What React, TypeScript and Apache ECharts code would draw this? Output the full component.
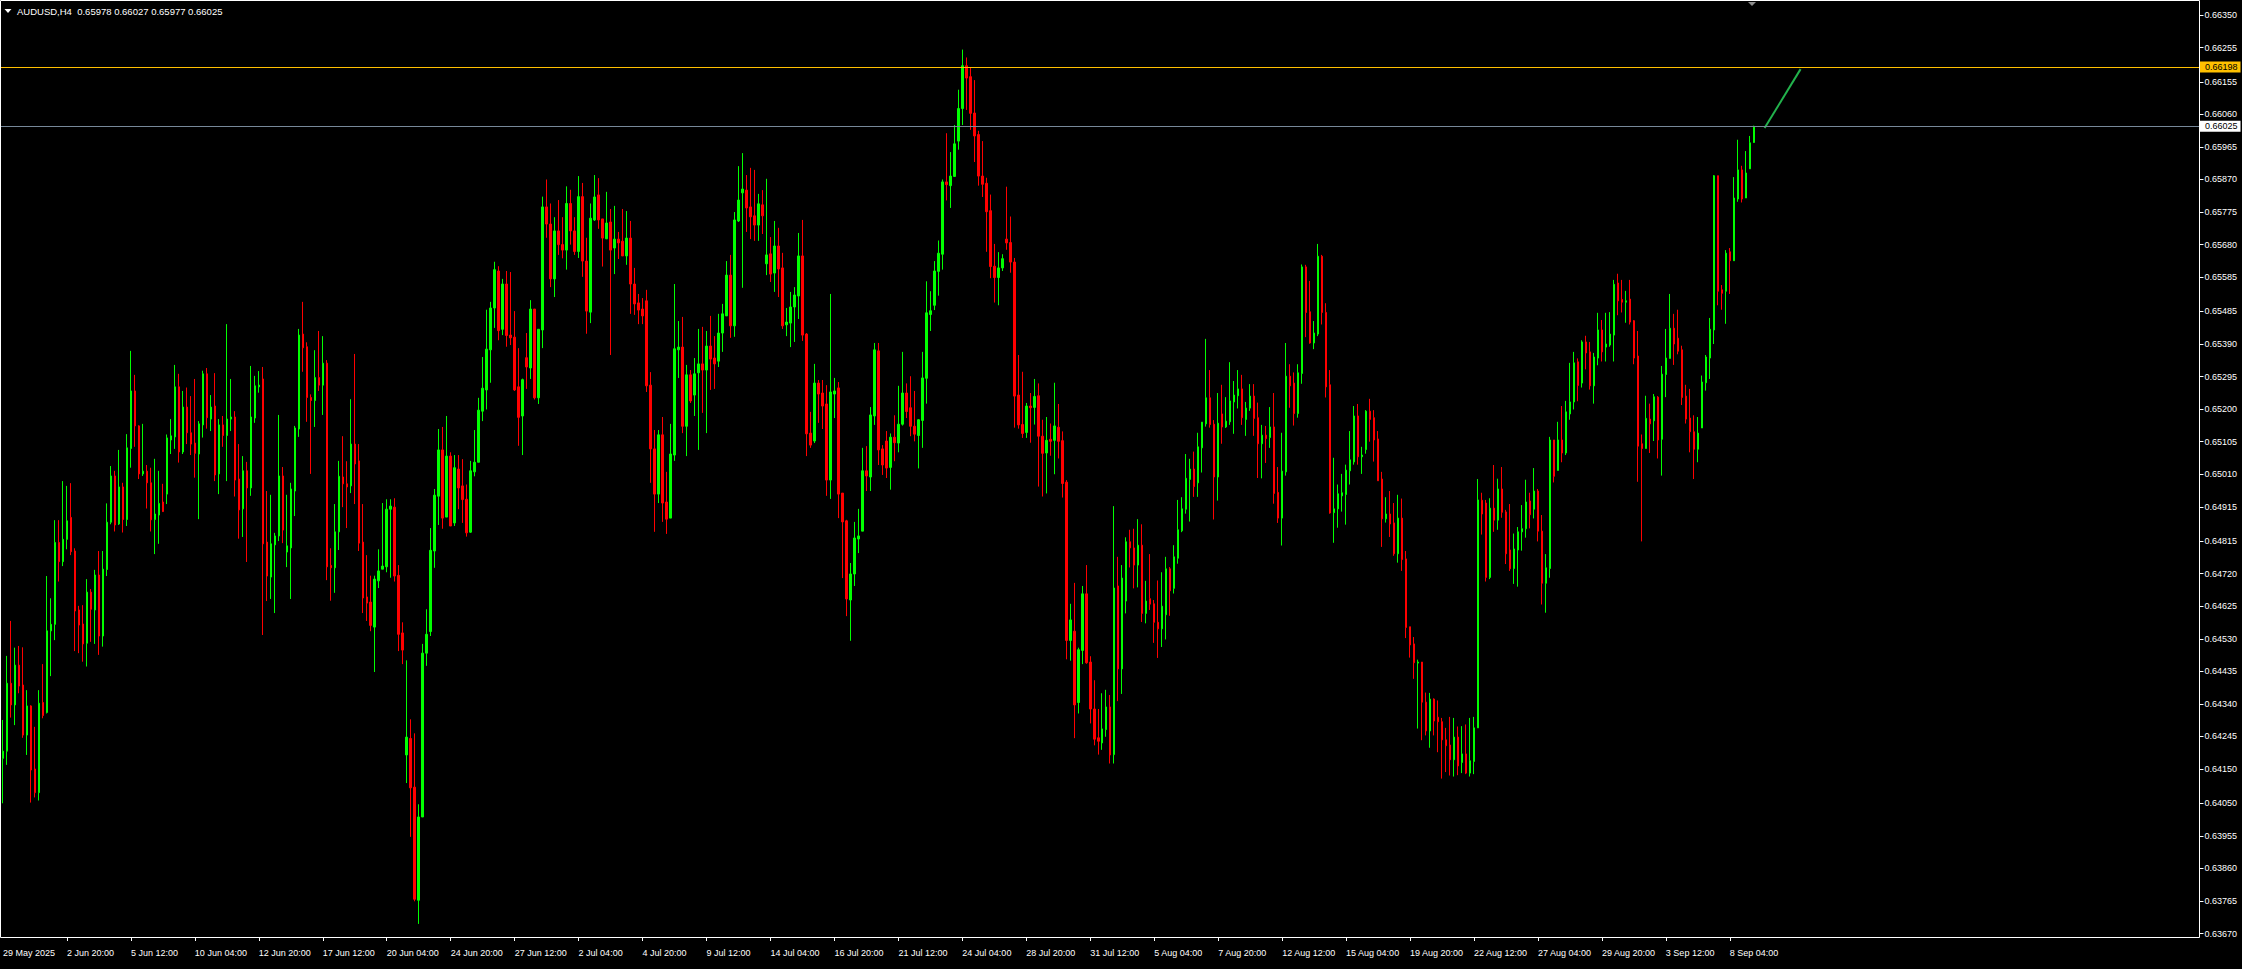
import React, { useEffect, useRef } from "react";
import * as echarts from "echarts";

// Prices are stored in 1e-5 units (points): 64181 -> 0.64181
const SCALE = 100000;

const OPEN = [
  64181, 64202, 64400, 64337, 64453, 64395, 64249, 64334, 64150, 64081,
  64344, 64315, 64553, 64572, 64811, 64755, 64820, 64884, 64786, 64614,
  64573, 64517, 64666, 64614, 64716, 64538, 64732, 64870, 65005, 64865,
  64973, 64878, 65085, 65253, 65151, 65011, 65019, 64985, 64878, 64891,
  64929, 64952, 65110, 65119, 65265, 65075, 65206, 65131, 65101, 65069,
  65154, 65303, 65171, 65209, 65011, 65154, 65123, 65171, 65177, 64996,
  64909, 65020, 64970, 65174, 65265, 65288, 64812, 64710, 64804, 64830,
  65005, 64783, 64795, 64961, 65142, 65419, 65382, 65234, 65225, 65292,
  65270, 65334, 64744, 64737, 64842, 65002, 64982, 64976, 65098, 65049,
  64812, 64652, 64637, 64564, 64699, 64733, 64740, 64908, 64914, 64715,
  64547, 64191, 64239, 64097, 63767, 64010, 64488, 64551, 64786, 64946,
  65081, 64885, 65063, 64868, 65025, 64976, 64937, 64841, 65017, 65045,
  65194, 65256, 65373, 65495, 65603, 65433, 65565, 65416, 65410, 65265,
  65180, 65350, 65320, 65492, 65233, 65431, 65790, 65740, 65580, 65720,
  65680, 65664, 65800, 65720, 65660, 65820, 65632, 65483, 65752, 65825,
  65755, 65697, 65746, 65670, 65696, 65690, 65647, 65699, 65565, 65510,
  65492, 65516, 65270, 65084, 64952, 65125, 64929, 64882, 65066, 65373,
  65381, 65150, 65300, 65241, 65306, 65332, 65314, 65384, 65349, 65340,
  65422, 65472, 65591, 65443, 65749, 65831, 65839, 65790, 65764, 65737,
  65796, 65624, 65653, 65597, 65676, 65612, 65446, 65451, 65498, 65530,
  65647, 65419, 65130, 65107, 65276, 65247, 65215, 64993, 65244, 65262,
  64955, 64874, 64643, 64719, 64821, 64844, 65020, 65002, 65180, 65370,
  65084, 65107, 65030, 65118, 65101, 65156, 65247, 65204, 65150, 65123,
  65167, 65290, 65476, 65503, 65602, 65652, 65863, 65852, 65879, 65982,
  66077, 66202, 66170, 66064, 66001, 65880, 65859, 65779, 65617, 65584,
  65612, 65696, 65686, 65629, 65241, 65155, 65132, 65209, 65205, 65239,
  65121, 65072, 65112, 65109, 65147, 65108, 64987, 64525, 64552, 64344,
  64496, 64661, 64462, 64325, 64241, 64226, 64265, 64331, 64192, 64684,
  64442, 64640, 64813, 64795, 64745, 64803, 64604, 64647, 64632, 64578,
  64559, 64600, 64734, 64677, 64765, 64845, 64908, 64995, 65025, 64985,
  65087, 65157, 65233, 65156, 65002, 65186, 65148, 65163, 65221, 65239,
  65259, 65170, 65203, 65238, 65175, 65099, 65124, 65117, 65148, 64957,
  64882, 65017, 65296, 65276, 65187, 65304, 65615, 65484, 65393, 65419,
  65646, 65482, 65271, 64898, 64909, 64947, 64951, 65020, 65046, 65180,
  65061, 65082, 65194, 65175, 65113, 64996, 64880, 64894, 64868, 64778,
  64882, 64763, 64565, 64515, 64459, 64462, 64345, 64261, 64354, 64301,
  64288, 64235, 64220, 64177, 64243, 64169, 64194, 64138, 64172, 64270,
  64934, 64926, 64709, 64911, 64876, 64967, 64900, 64789, 64735, 64789,
  64842, 64851, 64932, 64908, 64961, 64844, 64692, 64735, 65110, 65021,
  65110, 65072, 65186, 65221, 65338, 65276, 65396, 65367, 65268, 65349,
  65431, 65381, 65387, 65416, 65568, 65520, 65512, 65521, 65458, 65355,
  65099, 65085, 65171, 65166, 65235, 65112, 65301, 65348, 65436, 65407,
  65373, 65238, 65174, 65134, 65083, 65145, 65277, 65349, 65431, 65881,
  65548, 65544, 65659, 65633, 65813, 65898, 65816, 65901, 65978,
];

const HIGH = [
  64293, 64480, 64582, 64504, 64509, 64505, 64380, 64336, 64273, 64380,
  64456, 64713, 64648, 64876, 64876, 64990, 64976, 64984, 64794, 64626,
  64628, 64704, 64675, 64731, 64786, 64786, 64925, 65034, 65020, 65081,
  64985, 65127, 65370, 65300, 65153, 65157, 65037, 65029, 65055, 65020,
  64982, 65126, 65171, 65329, 65303, 65253, 65263, 65238, 65288, 65165,
  65312, 65320, 65241, 65305, 65171, 65180, 65448, 65288, 65194, 65098,
  65063, 65046, 65326, 65297, 65311, 65323, 64961, 64950, 64839, 65183,
  65031, 64950, 64985, 65151, 65434, 65513, 65395, 65243, 65372, 65428,
  65413, 65343, 64794, 64923, 65049, 65121, 65048, 65229, 65361, 65098,
  64923, 64774, 64714, 64714, 64791, 64926, 64937, 64937, 64940, 64745,
  64578, 64467, 64295, 64254, 64047, 64515, 64616, 64853, 64967, 65142,
  65148, 65180, 65074, 65066, 65066, 65054, 64980, 65049, 65139, 65233,
  65352, 65490, 65513, 65630, 65617, 65580, 65603, 65600, 65486, 65378,
  65289, 65422, 65518, 65492, 65433, 65820, 65870, 65800, 65760, 65810,
  65760, 65850, 65840, 65760, 65880, 65860, 65700, 65800, 65883, 65874,
  65755, 65834, 65784, 65793, 65717, 65784, 65778, 65749, 65612, 65536,
  65524, 65548, 65308, 65139, 65139, 65177, 65017, 65157, 65565, 65457,
  65469, 65329, 65314, 65349, 65434, 65440, 65428, 65472, 65413, 65478,
  65507, 65632, 65650, 65775, 65909, 65947, 65883, 65904, 65898, 65828,
  65839, 65872, 65702, 65749, 65729, 65656, 65495, 65542, 65556, 65714,
  65752, 65422, 65192, 65332, 65285, 65285, 65270, 65536, 65291, 65279,
  64955, 64877, 64751, 64871, 64909, 65087, 65092, 65206, 65393, 65393,
  65095, 65136, 65129, 65182, 65268, 65367, 65275, 65296, 65253, 65171,
  65367, 65573, 65544, 65632, 65692, 65870, 66005, 65950, 66029, 66132,
  66249, 66226, 66196, 66160, 66012, 65982, 65875, 65826, 65682, 65658,
  65652, 65849, 65762, 65641, 65358, 65309, 65218, 65247, 65288, 65275,
  65169, 65177, 65158, 65277, 65215, 65135, 64993, 64632, 64693, 64504,
  64684, 64745, 64479, 64409, 64325, 64371, 64381, 64366, 64917, 64769,
  64745, 64826, 64848, 64851, 64879, 64864, 64699, 64777, 64643, 64700,
  64724, 64769, 64739, 64803, 64935, 64943, 65069, 65055, 65076, 65131,
  65162, 65405, 65314, 65168, 65247, 65271, 65235, 65337, 65282, 65314,
  65300, 65221, 65273, 65273, 65219, 65154, 65151, 65206, 65247, 65031,
  65131, 65393, 65331, 65307, 65331, 65622, 65621, 65574, 65457, 65682,
  65650, 65509, 65314, 65058, 64980, 65011, 65038, 65136, 65209, 65215,
  65090, 65197, 65230, 65197, 65136, 65017, 64943, 64961, 64926, 64950,
  64939, 64786, 64565, 64535, 64469, 64462, 64373, 64372, 64356, 64350,
  64299, 64270, 64302, 64299, 64274, 64275, 64280, 64299, 64302, 64996,
  64956, 64935, 64940, 65037, 64997, 65031, 64906, 64923, 64837, 64856,
  64920, 64994, 64956, 65028, 64967, 64891, 64777, 65119, 65110, 65163,
  65209, 65224, 65335, 65367, 65348, 65401, 65414, 65396, 65364, 65481,
  65460, 65481, 65483, 65577, 65595, 65577, 65545, 65577, 65460, 65428,
  65126, 65239, 65216, 65244, 65238, 65326, 65434, 65536, 65478, 65490,
  65385, 65271, 65259, 65182, 65177, 65298, 65358, 65466, 65883, 65881,
  65562, 65664, 65670, 65877, 65986, 65910, 65953, 65997, 66027,
];

const LOW = [
  64050, 64162, 64300, 64278, 64371, 64241, 64191, 64052, 64067, 64058,
  64298, 64312, 64421, 64526, 64697, 64742, 64791, 64774, 64494, 64488,
  64463, 64449, 64521, 64515, 64483, 64507, 64713, 64864, 64843, 64862,
  64840, 64859, 65029, 65090, 64996, 65005, 64910, 64843, 64777, 64807,
  64900, 64923, 65069, 65084, 65044, 65069, 65098, 65066, 65000, 64879,
  65117, 65143, 65136, 64990, 64952, 65090, 64990, 65136, 64945, 64822,
  64827, 64754, 64947, 65160, 65248, 64541, 64640, 64646, 64605, 64815,
  64809, 64739, 64646, 64888, 65119, 65309, 65163, 65011, 65148, 65253,
  65183, 64701, 64641, 64664, 64789, 64914, 64853, 64955, 64923, 64786,
  64605, 64582, 64552, 64433, 64678, 64733, 64724, 64708, 64697, 64494,
  64456, 64109, 63952, 63764, 63698, 64010, 64451, 64538, 64737, 64862,
  64851, 64885, 64859, 64859, 64908, 64868, 64828, 64839, 65004, 65045,
  65165, 65199, 65277, 65437, 65401, 65416, 65382, 65387, 65253, 65093,
  65066, 65259, 65288, 65228, 65215, 65378, 65700, 65556, 65527, 65650,
  65640, 65607, 65680, 65650, 65641, 65586, 65420, 65451, 65749, 65726,
  65616, 65696, 65358, 65594, 65638, 65647, 65621, 65478, 65475, 65448,
  65448, 65250, 64985, 64842, 64926, 64871, 64836, 64882, 65049, 65291,
  65130, 65063, 65218, 65180, 65081, 65189, 65130, 65256, 65259, 65323,
  65367, 65472, 65408, 65411, 65746, 65554, 65717, 65696, 65691, 65691,
  65711, 65591, 65571, 65542, 65527, 65434, 65413, 65381, 65396, 65463,
  65399, 65063, 65087, 65101, 65160, 65142, 64947, 64938, 65174, 64882,
  64707, 64596, 64524, 64684, 64780, 64844, 64961, 64961, 65154, 65037,
  65008, 64999, 64965, 65048, 65074, 65152, 65174, 65121, 65106, 65027,
  65087, 65216, 65428, 65489, 65531, 65607, 65809, 65787, 65879, 65957,
  66029, 66073, 66015, 65921, 65852, 65819, 65659, 65582, 65511, 65503,
  65603, 65665, 65598, 65146, 65143, 65116, 65116, 65102, 65155, 64974,
  64945, 64954, 65064, 65010, 65056, 64942, 64470, 64466, 64240, 64312,
  64456, 64457, 64283, 64219, 64192, 64206, 64244, 64166, 64166, 64348,
  64369, 64604, 64738, 64677, 64680, 64579, 64575, 64614, 64518, 64474,
  64506, 64528, 64597, 64662, 64749, 64841, 64895, 64872, 64944, 64944,
  65015, 65149, 65146, 64878, 64933, 65099, 65145, 65154, 65128, 65202,
  65154, 65122, 65195, 65122, 64999, 64998, 65043, 65087, 64924, 64868,
  64802, 65006, 65204, 65152, 65175, 65274, 65410, 65391, 65375, 65413,
  65447, 65234, 64895, 64810, 64854, 64901, 64863, 64980, 65038, 65038,
  65011, 65070, 65105, 65047, 64991, 64798, 64869, 64827, 64772, 64752,
  64728, 64532, 64475, 64413, 64268, 64234, 64248, 64212, 64248, 64199,
  64122, 64141, 64131, 64128, 64132, 64138, 64135, 64128, 64135, 64270,
  64834, 64697, 64704, 64842, 64848, 64883, 64748, 64728, 64690, 64682,
  64787, 64825, 64852, 64881, 64814, 64630, 64606, 64708, 64986, 65021,
  65045, 65066, 65169, 65199, 65223, 65263, 65316, 65257, 65216, 65328,
  65339, 65339, 65382, 65339, 65474, 65482, 65452, 65447, 65331, 64988,
  64814, 65085, 65072, 65107, 65056, 65006, 65235, 65348, 65329, 65360,
  65212, 65158, 65074, 64996, 65045, 65145, 65254, 65288, 65390, 65503,
  65490, 65449, 65536, 65633, 65805, 65803, 65816, 65901, 65977,
];

const CLOSE = [
  64202, 64400, 64337, 64453, 64392, 64249, 64334, 64147, 64081, 64342,
  64306, 64553, 64572, 64811, 64755, 64820, 64874, 64784, 64611, 64570,
  64515, 64666, 64616, 64716, 64538, 64733, 64870, 65005, 64862, 64973,
  64878, 65087, 65253, 65151, 65011, 65019, 64985, 64877, 64894, 64925,
  64901, 65116, 65122, 65265, 65075, 65206, 65131, 65098, 65071, 65157,
  65303, 65175, 65206, 65008, 65154, 65123, 65171, 65177, 64993, 64906,
  65020, 64970, 65177, 65268, 65270, 64807, 64713, 64807, 64830, 65005,
  64847, 64801, 64967, 65145, 65416, 65379, 65234, 65225, 65292, 65270,
  65334, 64740, 64737, 64842, 65004, 64982, 64973, 65098, 65040, 64809,
  64649, 64634, 64569, 64704, 64728, 64742, 64908, 64917, 64713, 64543,
  64497, 64243, 64095, 63770, 64010, 64488, 64543, 64788, 64949, 65081,
  64882, 65063, 64859, 65029, 64970, 64936, 64839, 65020, 65045, 65197,
  65261, 65375, 65495, 65607, 65429, 65565, 65415, 65408, 65256, 65176,
  65286, 65323, 65492, 65233, 65433, 65790, 65740, 65580, 65720, 65680,
  65664, 65800, 65720, 65660, 65820, 65632, 65486, 65757, 65819, 65752,
  65699, 65743, 65664, 65696, 65685, 65647, 65699, 65565, 65507, 65489,
  65472, 65268, 65084, 64952, 65125, 64926, 64879, 65069, 65376, 65381,
  65150, 65300, 65224, 65303, 65332, 65314, 65384, 65346, 65332, 65422,
  65478, 65591, 65443, 65752, 65810, 65842, 65787, 65761, 65737, 65799,
  65764, 65650, 65594, 65676, 65609, 65443, 65454, 65498, 65533, 65647,
  65416, 65128, 65095, 65276, 65244, 65209, 64993, 65250, 65253, 64952,
  64871, 64646, 64719, 64824, 64830, 65020, 65005, 65183, 65373, 65081,
  65037, 65028, 65118, 65102, 65156, 65247, 65193, 65150, 65127, 65169,
  65291, 65481, 65487, 65603, 65655, 65863, 65855, 65880, 65974, 66077,
  66202, 66166, 66063, 65997, 65880, 65856, 65776, 65616, 65584, 65612,
  65639, 65685, 65629, 65238, 65154, 65129, 65209, 65204, 65237, 65121,
  65071, 65109, 65106, 65151, 65106, 64983, 64525, 64585, 64337, 64498,
  64661, 64460, 64325, 64237, 64231, 64267, 64331, 64191, 64678, 64442,
  64707, 64813, 64795, 64745, 64803, 64604, 64640, 64631, 64578, 64559,
  64625, 64734, 64670, 64769, 64848, 64909, 64998, 65025, 64974, 65090,
  65162, 65233, 65155, 65002, 65159, 65148, 65165, 65224, 65241, 65259,
  65175, 65203, 65238, 65173, 65099, 65124, 65114, 65148, 64954, 64882,
  65019, 65296, 65268, 65187, 65306, 65615, 65482, 65393, 65422, 65646,
  65482, 65265, 64897, 64909, 64953, 64956, 65022, 65052, 65180, 65061,
  65066, 65194, 65170, 65110, 64991, 64880, 64894, 64865, 64778, 64882,
  64761, 64563, 64512, 64460, 64462, 64345, 64261, 64354, 64290, 64288,
  64235, 64218, 64177, 64243, 64159, 64194, 64138, 64174, 64270, 64935,
  64894, 64709, 64911, 64876, 64967, 64899, 64778, 64734, 64792, 64842,
  64851, 64929, 64892, 64961, 64844, 64692, 64737, 65110, 65004, 65110,
  65072, 65192, 65221, 65335, 65269, 65396, 65364, 65268, 65352, 65431,
  65367, 65390, 65419, 65564, 65516, 65512, 65516, 65454, 65349, 65092,
  65085, 65173, 65157, 65236, 65110, 65302, 65349, 65436, 65390, 65369,
  65234, 65171, 65134, 65083, 65130, 65279, 65352, 65433, 65881, 65544,
  65538, 65655, 65633, 65816, 65898, 65813, 65889, 65977, 66025,
];

const Y_TICKS = [
  0.6635, 0.66255, 0.66155, 0.6606, 0.65965, 0.6587, 0.65775, 0.6568, 0.65585,
  0.65485, 0.6539, 0.65295, 0.652, 0.65105, 0.6501, 0.64915, 0.64815, 0.6472,
  0.64625, 0.6453, 0.64435, 0.6434, 0.64245, 0.6415, 0.6405, 0.63955, 0.6386,
  0.63765, 0.6367,
];

const X_TICKS = [
  "29 May 2025", "2 Jun 20:00", "5 Jun 12:00", "10 Jun 04:00", "12 Jun 20:00",
  "17 Jun 12:00", "20 Jun 04:00", "24 Jun 20:00", "27 Jun 12:00", "2 Jul 04:00",
  "4 Jul 20:00", "9 Jul 12:00", "14 Jul 04:00", "16 Jul 20:00", "21 Jul 12:00",
  "24 Jul 04:00", "28 Jul 20:00", "31 Jul 12:00", "5 Aug 04:00", "7 Aug 20:00",
  "12 Aug 12:00", "15 Aug 04:00", "19 Aug 20:00", "22 Aug 12:00", "27 Aug 04:00",
  "29 Aug 20:00", "3 Sep 12:00", "8 Sep 04:00",
];

const TITLE = "AUDUSD,H4  0.65978 0.66027 0.65977 0.66025";
const LEVEL_ORANGE = 0.66198;
const LEVEL_BID = 0.66025;
// trend line: [bar index, price]
const TREND = [
  [440.7, 0.6602],
  [449.7, 0.66192],
];

const FIRST_BAR_UTC = Date.UTC(2025, 4, 29, 4);
const SLOTS = 550;
const MONTHS = ["Jan", "Feb", "Mar", "Apr", "May", "Jun", "Jul", "Aug", "Sep", "Oct", "Nov", "Dec"];

function buildCategories(): string[] {
  const out: string[] = [];
  let t = FIRST_BAR_UTC;
  while (out.length < SLOTS) {
    const d = new Date(t);
    const wd = d.getUTCDay();
    if (wd !== 0 && wd !== 6) {
      const hh = String(d.getUTCHours()).padStart(2, "0");
      out.push(`${d.getUTCDate()} ${MONTHS[d.getUTCMonth()]} ${hh}:00`);
    }
    t += 4 * 3600 * 1000;
  }
  return out;
}

const FONT = "'Liberation Sans', Arial, sans-serif";

export default function App() {
  const ref = useRef<HTMLDivElement>(null);

  useEffect(() => {
    if (!ref.current) return;
    const chart = echarts.init(ref.current, null, { renderer: "svg" });
    const categories = buildCategories();
    const tickSet = new Set(X_TICKS.slice(1));

    const candles = OPEN.map((o, i) => {
      const c = CLOSE[i];
      const l = Math.min(LOW[i], o, c);
      const h = Math.max(HIGH[i], o, c);
      return [o / SCALE, c / SCALE, l / SCALE, h / SCALE];
    });

    const option: any = {
      animation: false,
      backgroundColor: "#000000",
      grid: { left: -0.5, top: 1, width: 2200, height: 936, containLabel: false },
      xAxis: [
        {
          type: "category",
          data: categories,
          boundaryGap: true,
          axisLine: { show: false, onZero: false },
          axisTick: {
            show: true,
            alignWithLabel: true,
            length: 4,
            interval: (i: number, v: string) => i !== 0 && tickSet.has(v),
            lineStyle: { color: "#ffffff", width: 1 },
          },
          axisLabel: {
            show: true,
            interval: (i: number, v: string) => i === 0 || tickSet.has(v),
            formatter: (v: string, i: number) => (i === 0 ? X_TICKS[0] : v),
            align: "left",
            color: "#ffffff",
            fontSize: 9,
            fontFamily: FONT,
            margin: 11,
          },
          splitLine: { show: false },
        },
        {
          type: "value",
          min: -0.5,
          max: SLOTS - 0.5,
          show: false,
          axisLine: { onZero: false },
        },
      ],
      yAxis: {
        type: "value",
        position: "right",
        min: 0.636598,
        max: 0.663908,
        axisLine: { show: false, onZero: false },
        axisTick: {
          show: true,
          length: 4,
          customValues: Y_TICKS,
          lineStyle: { color: "#ffffff", width: 1 },
        },
        axisLabel: {
          show: true,
          customValues: Y_TICKS,
          formatter: (v: number) => v.toFixed(5),
          color: "#ffffff",
          fontSize: 9,
          fontFamily: FONT,
          margin: 5,
        },
        splitLine: { show: false },
      },
      graphic: [
        {
          type: "rect",
          silent: true,
          z: 100,
          shape: { x: 0.5, y: 0.5, width: 2199, height: 937 },
          style: { fill: "none", stroke: "#ffffff", lineWidth: 1 },
        },
        {
          type: "polygon",
          silent: true,
          shape: { points: [[4.5, 9], [11.5, 9], [8, 13]] },
          style: { fill: "#ffffff" },
        },
        {
          type: "text",
          silent: true,
          left: 17,
          top: 6,
          style: { text: TITLE, fill: "#ffffff", font: `9.5px ${FONT}` },
        },
        {
          type: "polygon",
          silent: true,
          shape: { points: [[1748, 2], [1756, 2], [1752, 6]] },
          style: { fill: "#8c8c8c" },
        },
      ],
      series: [
        {
          type: "candlestick",
          data: candles,
          barWidth: 2,
          silent: true,
          itemStyle: {
            color: "#00ff00",
            color0: "#ff0000",
            borderColor: "#00ff00",
            borderColor0: "#ff0000",
            borderWidth: 1,
          },
          markLine: {
            silent: true,
            symbol: ["none", "none"],
            precision: 5,
            data: [
              {
                yAxis: LEVEL_ORANGE,
                lineStyle: { color: "#ffc000", width: 1, type: "solid" },
                label: {
                  show: true,
                  position: "end",
                  distance: 0.5,
                  formatter: LEVEL_ORANGE.toFixed(5),
                  backgroundColor: "#ffc000",
                  color: "#000000",
                  fontSize: 9,
                  fontFamily: FONT,
                  lineHeight: 10,
                  padding: [0, 3, 1, 5],
                },
              },
              {
                yAxis: LEVEL_BID,
                lineStyle: { color: "#778899", width: 1, type: "solid" },
                label: {
                  show: true,
                  position: "end",
                  distance: 0.5,
                  formatter: LEVEL_BID.toFixed(5),
                  backgroundColor: "#ffffff",
                  color: "#000000",
                  fontSize: 9,
                  fontFamily: FONT,
                  lineHeight: 10,
                  padding: [0, 3, 1, 5],
                },
              },
            ],
          },
        },
        {
          type: "line",
          xAxisIndex: 1,
          data: TREND,
          symbol: "none",
          silent: true,
          lineStyle: { color: "#22b24c", width: 2 },
        },
      ],
    };

    chart.setOption(option);
    return () => chart.dispose();
  }, []);

  return (
    <div
      ref={ref}
      style={{ position: "fixed", left: 0, top: 0, width: 2242, height: 969, background: "#000000" }}
    />
  );
}
